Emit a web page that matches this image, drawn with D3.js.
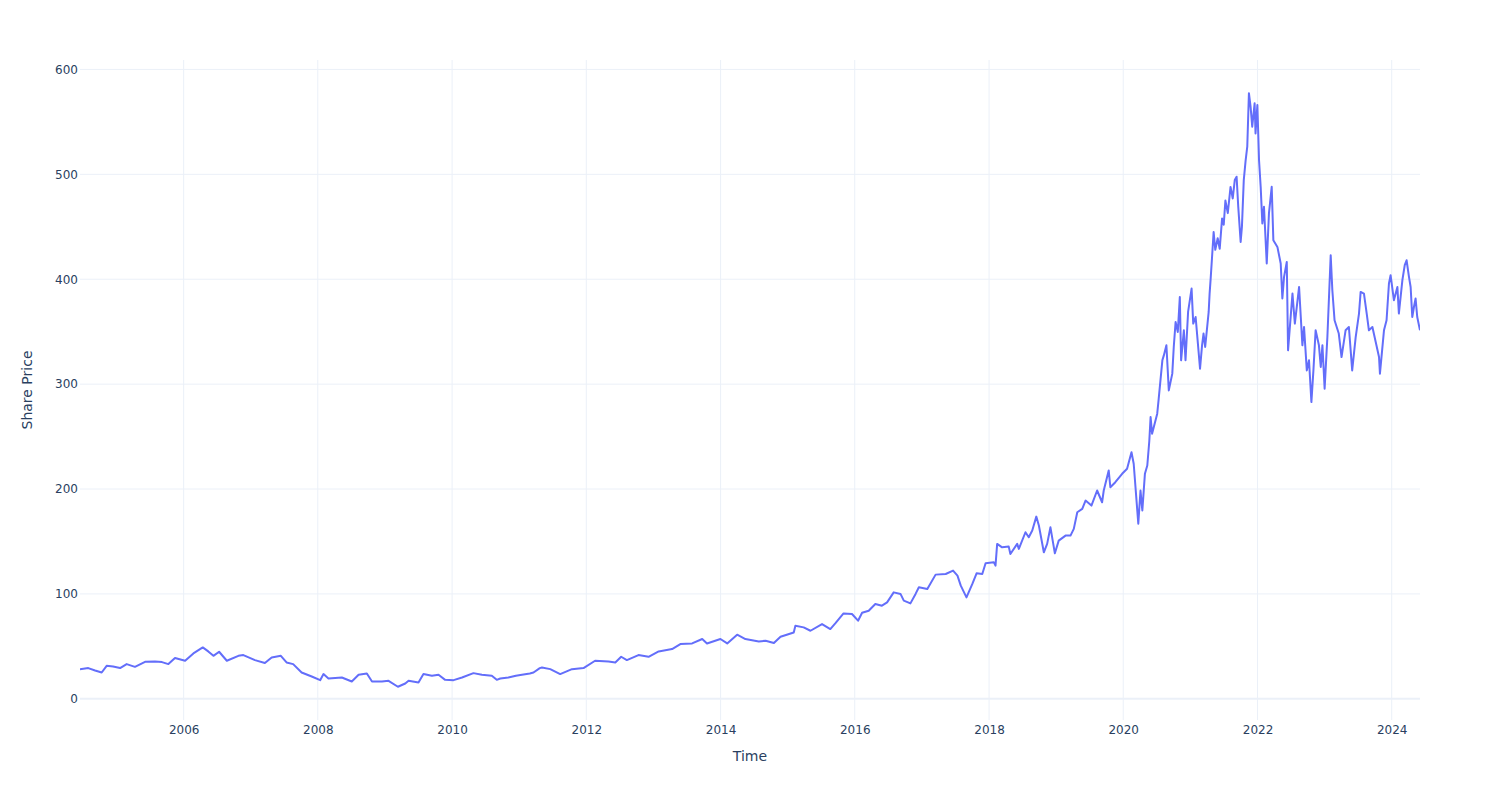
<!DOCTYPE html>
<html>
<head>
<meta charset="utf-8">
<script src="https://cdn.jsdelivr.net/npm/d3@7"></script>
<style>
  html, body { margin: 0; padding: 0; background: #fff; }
  svg { display: block; font-family: "DejaVu Sans", verdana, arial, sans-serif; }
</style>
</head>
<body>
<svg id="chart" width="1500" height="800"></svg>
<script>
// Closing share price.
var dates = [
  '2004-06-16', '2004-07-31', '2004-09-06', '2004-10-12', '2004-11-08', '2004-12-13',
  '2005-01-20', '2005-02-25', '2005-04-11', '2005-06-05', '2005-07-29', '2005-09-05',
  '2005-10-10', '2005-11-15', '2006-01-09', '2006-02-23', '2006-04-15', '2006-05-15',
  '2006-06-12', '2006-07-13', '2006-08-24', '2006-10-26', '2006-11-22', '2007-01-24',
  '2007-03-19', '2007-04-25', '2007-06-14', '2007-07-15', '2007-08-20', '2007-10-05',
  '2007-11-29', '2008-01-14', '2008-02-01', '2008-02-28', '2008-05-11', '2008-07-04',
  '2008-08-10', '2008-09-24', '2008-10-22', '2008-12-15', '2009-01-20', '2009-03-12',
  '2009-04-21', '2009-05-09', '2009-07-02', '2009-07-29', '2009-09-13', '2009-10-19',
  '2009-11-24', '2010-01-09', '2010-02-24', '2010-04-27', '2010-06-12', '2010-08-05',
  '2010-09-01', '2010-09-20', '2010-11-03', '2010-12-14', '2011-01-16', '2011-02-28',
  '2011-03-20', '2011-04-23', '2011-05-05', '2011-06-19',
  '2011-08-12', '2011-10-15', '2011-12-17', '2012-02-18', '2012-05-01', '2012-06-07',
  '2012-07-09', '2012-08-09', '2012-10-11', '2012-12-05', '2013-01-29', '2013-04-12',
  '2013-05-27', '2013-07-30', '2013-09-23', '2013-10-19', '2013-12-31', '2014-02-06',
  '2014-04-01', '2014-05-16', '2014-07-28', '2014-09-03', '2014-10-18', '2014-11-23',
  '2015-02-03', '2015-02-12', '2015-03-29', '2015-05-05', '2015-07-07', '2015-08-21',
  '2015-09-17', '2015-11-01', '2015-12-17', '2016-01-19', '2016-02-10', '2016-03-17',
  '2016-04-22', '2016-05-28', '2016-06-25', '2016-07-31', '2016-09-06', '2016-09-24',
  '2016-10-30', '2016-11-27', '2016-12-15', '2017-01-30', '2017-03-16', '2017-05-10',
  '2017-06-19', '2017-07-13', '2017-07-31', '2017-08-31', '2017-10-02', '2017-10-25',
  '2017-11-25', '2017-12-13', '2018-01-27', '2018-02-05', '2018-02-14', '2018-03-13',
  '2018-04-18', '2018-04-27', '2018-06-03', '2018-06-12', '2018-07-18', '2018-08-05',
  '2018-08-24', '2018-09-15', '2018-09-29', '2018-10-26', '2018-11-13', '2018-12-01',
  '2018-12-25', '2019-01-15', '2019-02-21', '2019-03-20', '2019-04-07', '2019-04-26',
  '2019-05-23', '2019-06-10', '2019-07-12', '2019-08-12', '2019-09-08', '2019-09-17',
  '2019-10-14', '2019-10-23', '2019-11-19', '2019-12-26', '2020-01-22', '2020-02-15',
  '2020-02-27', '2020-03-23', '2020-04-04', '2020-04-14', '2020-04-28', '2020-05-11',
  '2020-05-22', '2020-05-29', '2020-06-06', '2020-07-04', '2020-07-12', '2020-08-01',
  '2020-08-09', '2020-08-23', '2020-09-05', '2020-09-24', '2020-10-02', '2020-10-12',
  '2020-10-24', '2020-11-04', '2020-11-11', '2020-11-26', '2020-12-05', '2020-12-19',
  '2021-01-07', '2021-01-16', '2021-01-29', '2021-02-22', '2021-03-05', '2021-03-13',
  '2021-03-22', '2021-04-10', '2021-04-15', '2021-04-21', '2021-04-28', '2021-05-07',
  '2021-05-16', '2021-05-29', '2021-06-09', '2021-06-22', '2021-07-01', '2021-07-10',
  '2021-07-23', '2021-08-07', '2021-08-19', '2021-08-30', '2021-09-09', '2021-09-18',
  '2021-10-01', '2021-10-08', '2021-10-18', '2021-10-28', '2021-11-06', '2021-11-15',
  '2021-11-24', '2021-12-03', '2021-12-16', '2021-12-21', '2021-12-31', '2022-01-09',
  '2022-01-18', '2022-01-27', '2022-02-05', '2022-02-20', '2022-03-04', '2022-03-19',
  '2022-03-28', '2022-04-19', '2022-05-07', '2022-05-16', '2022-05-25', '2022-06-09',
  '2022-06-16', '2022-07-10', '2022-07-23', '2022-08-15', '2022-09-02', '2022-09-11',
  '2022-09-26', '2022-10-08', '2022-10-21', '2022-11-01', '2022-11-13', '2022-12-01',
  '2022-12-11', '2022-12-20', '2023-01-01', '2023-01-16', '2023-02-03', '2023-02-12',
  '2023-02-24', '2023-03-19', '2023-04-03', '2023-04-25', '2023-05-13', '2023-05-31',
  '2023-06-19', '2023-07-07', '2023-07-16', '2023-08-03', '2023-08-18', '2023-08-30',
  '2023-09-18', '2023-10-06', '2023-10-24', '2023-10-29', '2023-11-20', '2023-12-04',
  '2023-12-17', '2023-12-26', '2024-01-13', '2024-02-01', '2024-02-09', '2024-02-28',
  '2024-03-12', '2024-03-22', '2024-04-04', '2024-04-13', '2024-04-22', '2024-05-01',
  '2024-05-10', '2024-05-19', '2024-06-03'
];

var prices = [
  28.3, 29.3, 27.0, 25.1, 31.5, 30.8,
  29.3, 33.1, 30.5, 35.3, 35.6, 35.0,
  33.1, 38.9, 36.3, 43.3, 49.0, 45.2,
  41.0, 44.9, 36.3, 41.0, 41.7, 36.9,
  34.1, 39.4, 41.0, 34.7, 33.1, 25.1,
  21.3, 17.8, 23.6, 19.4, 20.3, 16.5,
  22.9, 24.2, 16.5, 16.5, 17.2, 11.5,
  14.6, 17.2, 15.6, 23.6, 22.0, 22.9,
  18.1, 17.8, 20.3, 24.5, 22.9, 22.0,
  18.1, 19.4, 20.3, 22.0, 22.9, 24.2,
  25.1, 29.3, 29.9, 28.3,
  23.6, 28.3, 29.3, 36.3, 35.6, 34.7,
  40.1, 36.9, 41.7, 40.1, 45.2, 47.4,
  52.2, 52.8, 57.0, 52.8, 57.0, 52.8,
  61.1, 57.0, 54.7, 55.4, 53.2, 59.2,
  63.3, 69.7, 68.1, 64.9, 71.3, 66.5,
  71.9, 81.4, 80.9, 74.5, 82.0, 84.0,
  90.4, 88.8, 91.9, 101.5, 100.0, 93.6,
  91.0, 100.0, 106.3, 104.7, 118.4, 119.0,
  122.2, 117.4, 107.9, 96.7, 109.5, 119.6,
  119.0, 129.2, 130.1, 127.0, 147.7, 144.4,
  145.1, 138.1, 147.7, 142.9, 158.8, 154.0,
  160.4, 173.7, 165.2, 139.7, 147.7, 163.5,
  138.7, 150.8, 155.6, 155.6, 162.0, 177.9,
  181.1, 189.0, 184.2, 198.6, 187.4, 198.6,
  217.7, 201.7, 206.5, 214.5, 219.3, 235.1,
  224.1, 167.0, 198.6, 179.5, 214.5, 222.4,
  246.0, 268.6, 252.7, 271.8, 286.0, 322.7,
  327.4, 337.0, 294.0, 310.0, 335.4, 359.2,
  349.7, 383.1, 322.7, 351.3, 322.7, 368.8,
  391.1, 357.7, 364.0, 314.7, 337.0, 348.2,
  335.4, 368.8, 386.0, 401.0, 420.0, 445.0,
  428.0, 439.0, 429.0, 458.0, 452.0, 475.0,
  463.0, 488.0, 477.0, 494.5, 497.7, 469.0,
  435.6, 450.0, 494.5, 513.0, 526.3, 577.3,
  564.5, 545.4, 567.7, 539.0, 566.1, 513.6,
  488.1, 453.2, 469.0, 415.0, 462.7, 488.1,
  437.2, 430.8, 415.0, 381.6, 402.0, 416.5,
  332.2, 386.3, 357.7, 392.6, 337.0, 354.5,
  313.1, 322.7, 282.9, 313.1, 351.3, 337.0,
  316.3, 337.0, 295.7, 344.9, 422.9, 389.5,
  360.9, 348.2, 325.8, 351.3, 354.5, 313.1,
  344.9, 367.3, 387.9, 386.3, 367.3, 351.3,
  354.5, 340.2, 325.8, 310.0, 351.3, 360.9,
  395.9, 403.8, 380.0, 392.6, 367.3, 399.0,
  413.4, 418.1, 402.2, 392.6, 364.0, 373.5,
  381.6, 364.0, 351.3
];

// Tick values of both axes.
var xTickYears = [2006, 2008, 2010, 2012, 2014, 2016, 2018, 2020, 2022, 2024];
var yTickValues = [0, 100, 200, 300, 400, 500, 600];

var xTitle = 'Time';
var yTitle = 'Share Price';

var WIDTH = 1500;
var HEIGHT = 800;
var margin = {top: 60, right: 80, bottom: 80, left: 80};
var innerW = WIDTH - margin.left - margin.right;
var innerH = HEIGHT - margin.top - margin.bottom;

var FONT = '"DejaVu Sans", verdana, arial, sans-serif';
var GRID = '#ebf0f8';
var TEXT = '#2a3f5f';
var LINE = '#636efa';

var parse = d3.timeParse('%Y-%m-%d');
var points = dates.map(function(d, i) {
  return {date: parse(d), price: prices[i]};
});

var svg = d3.select('#chart');
var plot = svg.append('g')
    .attr('transform', 'translate(' + margin.left + ',' + margin.top + ')');

// Scales: x spans the data, y pads the data range like the plotting lib does.
var x = d3.scaleTime()
    .domain(d3.extent(points, function(d) { return d.date; }))
    .range([0, innerW]);

var yMin = d3.min(prices);
var yMax = d3.max(prices);
var pad = (yMax - yMin) * 0.056;
var y = d3.scaleLinear()
    .domain([yMin - pad, yMax + pad])
    .range([innerH, 0]);

// Vertical grid.
var xTicks = xTickYears.map(function(yr) { return new Date(yr, 0, 1); });
plot.append('g').selectAll('line')
    .data(xTicks)
    .join('line')
    .attr('x1', function(d) { return x(d); })
    .attr('x2', function(d) { return x(d); })
    .attr('y1', 0)
    .attr('y2', innerH)
    .attr('stroke', GRID)
    .attr('stroke-width', 1);

// Horizontal grid, zero line drawn heavier.
plot.append('g').selectAll('line')
    .data(yTickValues)
    .join('line')
    .attr('x1', 0)
    .attr('x2', innerW)
    .attr('y1', function(d) { return y(d); })
    .attr('y2', function(d) { return y(d); })
    .attr('stroke', GRID)
    .attr('stroke-width', function(d) { return d === 0 ? 2 : 1; });

// X axis labels.
var xAxis = d3.axisBottom(x)
    .tickValues(xTicks)
    .tickFormat(d3.timeFormat('%Y'))
    .tickSize(0)
    .tickPadding(5);
var gx = plot.append('g')
    .attr('transform', 'translate(0,' + innerH + ')')
    .call(xAxis);
gx.select('.domain').remove();
gx.selectAll('text')
    .attr('fill', TEXT)
    .style('font-size', '12px')
    .style('font-family', FONT);

// Y axis labels.
var yAxis = d3.axisLeft(y)
    .tickValues(yTickValues)
    .tickSize(0)
    .tickPadding(2);
var gy = plot.append('g').call(yAxis);
gy.select('.domain').remove();
gy.selectAll('text')
    .attr('fill', TEXT)
    .style('font-size', '12px')
    .style('font-family', FONT);

// Price line, clipped to the plot area.
svg.append('defs').append('clipPath')
    .attr('id', 'plot-clip')
    .append('rect')
    .attr('width', innerW)
    .attr('height', innerH);

var line = d3.line()
    .x(function(d) { return x(d.date); })
    .y(function(d) { return y(d.price); });

plot.append('path')
    .datum(points)
    .attr('clip-path', 'url(#plot-clip)')
    .attr('fill', 'none')
    .attr('stroke', LINE)
    .attr('stroke-width', 2)
    .attr('stroke-linejoin', 'round')
    .attr('d', line);

// Axis titles.
svg.append('text')
    .attr('x', margin.left + innerW / 2)
    .attr('y', 761)
    .attr('text-anchor', 'middle')
    .attr('fill', TEXT)
    .style('font-size', '14px')
    .text(xTitle);

svg.append('text')
    .attr('transform', 'translate(32,' + (margin.top + innerH / 2) + ') rotate(-90)')
    .attr('text-anchor', 'middle')
    .attr('fill', TEXT)
    .style('font-size', '14px')
    .text(yTitle);
</script>
</body>
</html>
